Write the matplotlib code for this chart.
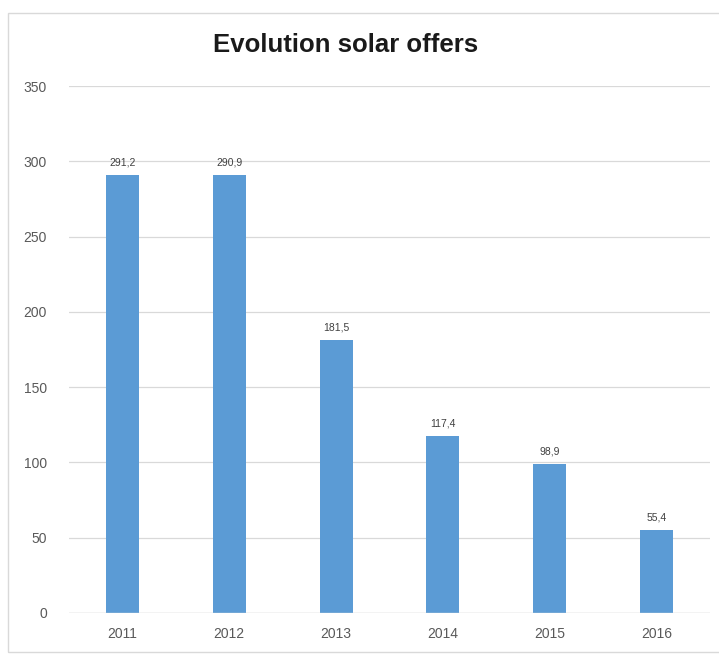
import matplotlib
matplotlib.use('Agg')
import matplotlib.pyplot as plt
from matplotlib.patches import Rectangle

years = ['2011', '2012', '2013', '2014', '2015', '2016']
offers = [291.2, 290.9, 181.5, 117.4, 98.9, 55.4]
yticks = [0, 50, 100, 150, 200, 250, 300, 350]

plt.rcParams['font.family'] = ['Liberation Sans', 'DejaVu Sans']

fig = plt.figure(figsize=(7.19, 6.56), dpi=100)
fig.patches.append(Rectangle((8/719, 1-652/656), 730/719, 639/656, transform=fig.transFigure,
                             fill=False, edgecolor='#d9d9d9', linewidth=1))
ax = fig.add_axes([69/719, 1-613/656, 641/719, 527/656])

x = range(len(years))
bars = ax.bar(x, offers, width=0.31, color='#5b9bd5', zorder=3)
for b, v in zip(bars, offers):
    ax.text(b.get_x() + b.get_width()/2, v + 5, f'{v:.1f}'.replace('.', ','),
            ha='center', va='bottom', fontsize=7.5, color='#404040')

ax.set_xlim(-0.5, 5.5)
ax.set_ylim(0, 350)
ax.set_yticks(yticks)
ax.set_xticks(list(x))
ax.set_xticklabels(years)
ax.tick_params(length=0, labelsize=10, labelcolor='#595959', pad=10)
ax.tick_params(axis='y', pad=16)
ax.grid(axis='y', color='#d9d9d9', linewidth=0.9, zorder=0)
ax.axhline(0, color='#d9d9d9', linewidth=1, zorder=4)
for s in ax.spines.values():
    s.set_visible(False)

fig.text(346/719, 1-45/656, 'Evolution solar offers', ha='center', va='center',
         fontsize=18.5, fontweight='bold', color='#1a1a1a')

fig.savefig('out.png', dpi=100)
